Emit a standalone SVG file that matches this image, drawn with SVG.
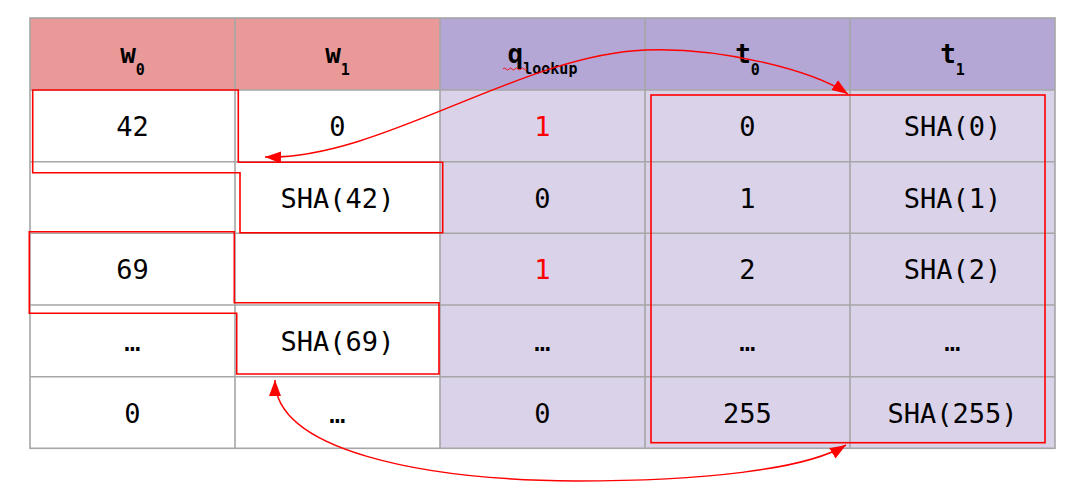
<svg xmlns="http://www.w3.org/2000/svg" width="1087" height="496" viewBox="0 0 1087 496">
<style>
.hw{fill:#EA9999}
.hp{fill:#B4A7D6}
.bw{fill:#FFFFFF}
.bp{fill:#D9D2E9}
.grid{stroke:#A6A6A6;stroke-width:1.6;fill:none}
.h{font-family:"DejaVu Sans Mono","Liberation Mono",monospace;font-weight:bold;font-size:26px;fill:#000;text-anchor:middle}
.sub{font-size:15px}
.t{font-family:"DejaVu Sans Mono","Liberation Mono",monospace;font-size:27px;fill:#000;text-anchor:middle}
.red{fill:#FF0000}
.outline{fill:none;stroke:#FF0000;stroke-width:1.6}
.conn{fill:none;stroke:#FF0000;stroke-width:1.5}
</style>
<defs>
<marker id="ah" markerUnits="userSpaceOnUse" markerWidth="18" markerHeight="14" refX="16" refY="6" orient="auto-start-reverse">
<path d="M0,0 L16,6 L0,12 z" fill="#FF0000"/>
</marker>
</defs>
<rect width="1087" height="496" fill="#FFFFFF"/>
<g id="table">
<g id="col-w0">
<rect class="hw" x="30" y="18" width="205" height="72"/>
<rect class="bw" x="30" y="90" width="205" height="358.3"/>
<text class="h" x="132.5" y="63">w<tspan class="sub" dy="12">0</tspan></text>
<text class="t" x="132.5" y="135.9">42</text>
<text class="t" x="132.5" y="279.2">69</text>
<text class="t" x="132.5" y="350.9">…</text>
<text class="t" x="132.5" y="422.5">0</text>
</g>
<g id="col-w1">
<rect class="hw" x="235" y="18" width="205" height="72"/>
<rect class="bw" x="235" y="90" width="205" height="358.3"/>
<text class="h" x="337.5" y="63">w<tspan class="sub" dy="12">1</tspan></text>
<text class="t" x="337.5" y="135.9">0</text>
<text class="t" x="337.5" y="207.5">SHA(42)</text>
<text class="t" x="337.5" y="350.9">SHA(69)</text>
<text class="t" x="337.5" y="422.5">…</text>
</g>
<g id="col-q">
<rect class="hp" x="440" y="18" width="205" height="72"/>
<rect class="bp" x="440" y="90" width="205" height="358.3"/>
<text class="h" x="542.5" y="63">q<tspan class="sub" dy="11">lookup</tspan></text>
<path d="M503,69 q1.5,-2 3,0 t3,0 t3,0 t3,0 t3,0 t3,0 t3,0 t3,0" fill="none" stroke="#FF0000" stroke-width="0.9"/>
<text class="t red" x="542.5" y="135.9">1</text>
<text class="t" x="542.5" y="207.5">0</text>
<text class="t red" x="542.5" y="279.2">1</text>
<text class="t" x="542.5" y="350.9">…</text>
<text class="t" x="542.5" y="422.5">0</text>
</g>
<g id="col-t0">
<rect class="hp" x="645" y="18" width="205" height="72"/>
<rect class="bp" x="645" y="90" width="205" height="358.3"/>
<text class="h" x="747.5" y="63">t<tspan class="sub" dy="12">0</tspan></text>
<text class="t" x="747.5" y="135.9">0</text>
<text class="t" x="747.5" y="207.5">1</text>
<text class="t" x="747.5" y="279.2">2</text>
<text class="t" x="747.5" y="350.9">…</text>
<text class="t" x="747.5" y="422.5">255</text>
</g>
<g id="col-t1">
<rect class="hp" x="850" y="18" width="205" height="72"/>
<rect class="bp" x="850" y="90" width="205" height="358.3"/>
<text class="h" x="952.5" y="63">t<tspan class="sub" dy="12">1</tspan></text>
<text class="t" x="952.5" y="135.9">SHA(0)</text>
<text class="t" x="952.5" y="207.5">SHA(1)</text>
<text class="t" x="952.5" y="279.2">SHA(2)</text>
<text class="t" x="952.5" y="350.9">…</text>
<text class="t" x="952.5" y="422.5">SHA(255)</text>
</g>
<g id="grid" class="grid">
<rect x="30" y="18" width="1025" height="430.3"/>
<path d="M235,18V448.3 M440,18V448.3 M645,18V448.3 M850,18V448.3"/>
<path d="M30,90H1055 M30,161.7H1055 M30,233.3H1055 M30,305H1055 M30,376.7H1055"/>
</g>
</g>
<g id="group-42">
<path class="outline" d="M32.7,90 H238.3 V162.3 H442.7 V232.7 H240 V172.7 H32.7 Z"/>
</g>
<g id="group-69">
<path class="outline" d="M29.3,231.7 H234.3 V302.7 H439 V374 H236.7 V313.3 H29.3 Z"/>
</g>
<g id="lookup-table">
<rect class="outline" x="651" y="95" width="394" height="347.7"/>
</g>
<g id="connectors">
<path class="conn" marker-start="url(#ah)" marker-end="url(#ah)" d="M265,157 C380,160 520,55 645,50 C720,47 812,70 848,94"/>
<path class="conn" marker-start="url(#ah)" marker-end="url(#ah)" d="M275,380 C275,450 420,480 576,481 C700,481 805,470 846,445"/>
</g>
</svg>
